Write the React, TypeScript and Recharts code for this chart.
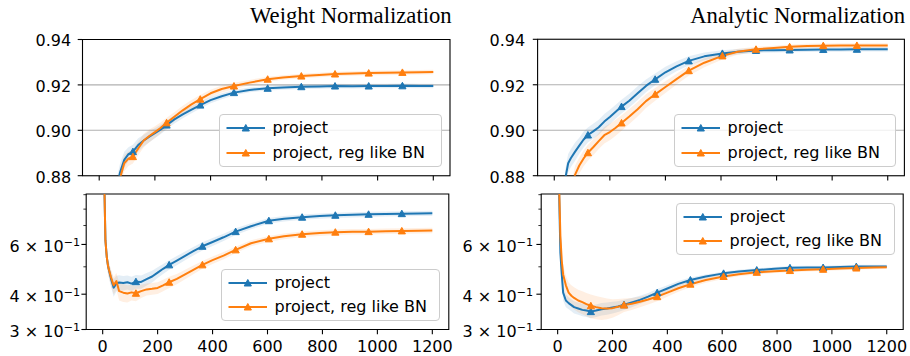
import React from 'react';
import { ComposedChart, Line, Area, XAxis, YAxis, CartesianGrid, ReferenceArea, Legend, Customized } from 'recharts';

const steps = [0, 5, 10, 15, 20, 30, 40, 50, 60, 75, 90, 105, 121, 140, 160, 180, 200, 220, 242, 270, 300, 330, 363, 400, 440, 484, 540, 605, 660, 726, 790, 847, 910, 968, 1030, 1089, 1150, 1200];
const markerSteps = [0, 121, 242, 363, 484, 605, 726, 847, 968, 1089];
const xTicks = [0, 200, 400, 600, 800, 1000, 1200];
const accTicks = [0.88, 0.9, 0.92, 0.94];
const lossTicks = [0.3, 0.4, 0.5, 0.6, 0.7, 0.8, 0.9];
const lossMajor = [0.3, 0.4, 0.6];
const seriesNames = ['project', 'project, reg like BN'];
const titles = ['Weight Normalization', 'Analytic Normalization'];
const colors = ['#1f77b4', '#ff7f0e'];

// Weight Normalization - accuracy
const wnAccProject = [0.70, 0.72, 0.75, 0.77, 0.79, 0.82, 0.845, 0.862, 0.873, 0.8815,
  0.8870, 0.8895, 0.8906, 0.8935, 0.8955, 0.8972, 0.8987, 0.9003, 0.9023, 0.9048,
  0.9070, 0.9090, 0.9111, 0.9133, 0.9150, 0.9166, 0.9178, 0.9185, 0.9189, 0.9192,
  0.9193, 0.9195, 0.9194, 0.9195, 0.9195, 0.9196, 0.9195, 0.9195];
const wnAccProjectStd = [0.004, 0.004, 0.004, 0.004, 0.004, 0.004, 0.004, 0.004, 0.004, 0.004,
  0.0035, 0.003, 0.003, 0.003, 0.0025, 0.0025, 0.0022, 0.002, 0.002, 0.0018,
  0.0017, 0.0016, 0.0015, 0.0014, 0.0013, 0.0012, 0.001, 0.001, 0.001, 0.001,
  0.001, 0.001, 0.001, 0.001, 0.001, 0.001, 0.001, 0.001];
const wnAccReg = [0.70, 0.72, 0.745, 0.765, 0.785, 0.815, 0.84, 0.857, 0.869, 0.879,
  0.8855, 0.8875, 0.8884, 0.8920, 0.8955, 0.8975, 0.8992, 0.9010, 0.9033, 0.9060,
  0.9088, 0.9113, 0.9137, 0.9163, 0.9182, 0.9195, 0.9210, 0.9225, 0.9233, 0.9239,
  0.9244, 0.9248, 0.9250, 0.9252, 0.9253, 0.9255, 0.9256, 0.9257];
const wnAccRegStd = [0.004, 0.004, 0.004, 0.004, 0.004, 0.004, 0.004, 0.004, 0.004, 0.004,
  0.0035, 0.0032, 0.003, 0.003, 0.003, 0.0028, 0.0026, 0.0024, 0.0022, 0.002,
  0.002, 0.0019, 0.0018, 0.0016, 0.0015, 0.0014, 0.0012, 0.0011, 0.001, 0.001,
  0.001, 0.001, 0.001, 0.001, 0.001, 0.001, 0.001, 0.001];

// Analytic Normalization - accuracy
const anAccProject = [0.72, 0.76, 0.79, 0.82, 0.84, 0.865, 0.879, 0.8855, 0.8878, 0.8906,
  0.8932, 0.8958, 0.8979, 0.8995, 0.9013, 0.9038, 0.9058, 0.9080, 0.9104, 0.9130,
  0.9163, 0.9195, 0.9224, 0.9255, 0.9281, 0.9305, 0.9325, 0.9338, 0.9345, 0.9351,
  0.9352, 0.9353, 0.9354, 0.9355, 0.9355, 0.9356, 0.9356, 0.9356];
const anAccProjectStd = [0.004, 0.004, 0.004, 0.004, 0.004, 0.004, 0.004, 0.004, 0.004, 0.004,
  0.0035, 0.0035, 0.0033, 0.0033, 0.0033, 0.0033, 0.0032, 0.0031, 0.003, 0.003,
  0.003, 0.0028, 0.0026, 0.0024, 0.0022, 0.002, 0.0017, 0.0014, 0.0012, 0.0011,
  0.001, 0.001, 0.001, 0.001, 0.001, 0.001, 0.001, 0.001];
const anAccReg = [0.70, 0.72, 0.745, 0.77, 0.79, 0.82, 0.845, 0.862, 0.872, 0.8805,
  0.8845, 0.8875, 0.8901, 0.8925, 0.8952, 0.8978, 0.8992, 0.9010, 0.9032, 0.9060,
  0.9092, 0.9128, 0.9158, 0.9190, 0.9225, 0.9262, 0.9297, 0.9327, 0.9345, 0.9356,
  0.9362, 0.9367, 0.9370, 0.9372, 0.9373, 0.9373, 0.9373, 0.9373];
const anAccRegStd = [0.004, 0.004, 0.004, 0.004, 0.004, 0.004, 0.004, 0.004, 0.004, 0.004,
  0.0035, 0.0035, 0.0035, 0.0035, 0.0035, 0.0036, 0.0036, 0.0035, 0.0034, 0.0033,
  0.0032, 0.003, 0.0028, 0.0026, 0.0024, 0.0022, 0.002, 0.0016, 0.0013, 0.0011,
  0.001, 0.001, 0.001, 0.001, 0.001, 0.001, 0.001, 0.001];

// Weight Normalization - loss
const wnLossProject = [2.0, 1.1, 0.62, 0.54, 0.50, 0.455, 0.422, 0.437, 0.440, 0.438,
  0.441, 0.436, 0.443, 0.442, 0.452, 0.462, 0.477, 0.492, 0.508, 0.526,
  0.547, 0.568, 0.591, 0.612, 0.636, 0.666, 0.696, 0.728, 0.740, 0.749,
  0.756, 0.761, 0.764, 0.767, 0.769, 0.771, 0.772, 0.773];
const wnLossProjectStd = [0.05, 0.05, 0.04, 0.035, 0.03, 0.03, 0.03, 0.028, 0.027, 0.026,
  0.025, 0.025, 0.025, 0.024, 0.023, 0.022, 0.021, 0.02, 0.02, 0.02,
  0.02, 0.02, 0.02, 0.02, 0.019, 0.018, 0.017, 0.016, 0.016, 0.016,
  0.016, 0.016, 0.016, 0.016, 0.016, 0.016, 0.016, 0.016];
const wnLossReg = [2.0, 1.1, 0.62, 0.54, 0.50, 0.46, 0.43, 0.445, 0.41, 0.405,
  0.402, 0.406, 0.403, 0.410, 0.416, 0.418, 0.421, 0.430, 0.441, 0.453,
  0.470, 0.488, 0.508, 0.528, 0.548, 0.574, 0.606, 0.628, 0.641, 0.652,
  0.658, 0.663, 0.665, 0.666, 0.668, 0.670, 0.671, 0.672];
const wnLossRegStd = [0.05, 0.05, 0.04, 0.035, 0.032, 0.03, 0.03, 0.03, 0.03, 0.03,
  0.028, 0.026, 0.025, 0.022, 0.02, 0.02, 0.02, 0.02, 0.02, 0.019,
  0.018, 0.017, 0.016, 0.016, 0.016, 0.015, 0.015, 0.015, 0.015, 0.015,
  0.015, 0.015, 0.015, 0.015, 0.015, 0.015, 0.015, 0.015];

// Analytic Normalization - loss
const anLossProject = [2.0, 0.95, 0.56, 0.47, 0.405, 0.38, 0.372, 0.366, 0.360, 0.356,
  0.352, 0.350, 0.347, 0.350, 0.354, 0.356, 0.359, 0.362, 0.367, 0.374,
  0.382, 0.392, 0.405, 0.419, 0.435, 0.449, 0.462, 0.474, 0.481, 0.487,
  0.492, 0.496, 0.497, 0.497, 0.499, 0.501, 0.501, 0.501];
const anLossProjectStd = [0.05, 0.05, 0.04, 0.03, 0.025, 0.02, 0.018, 0.018, 0.018, 0.018,
  0.018, 0.018, 0.018, 0.018, 0.018, 0.018, 0.017, 0.016, 0.015, 0.014,
  0.013, 0.012, 0.012, 0.011, 0.01, 0.009, 0.008, 0.007, 0.007, 0.007,
  0.007, 0.007, 0.007, 0.007, 0.007, 0.007, 0.007, 0.007];
const anLossReg = [2.0, 1.0, 0.64, 0.525, 0.47, 0.43, 0.405, 0.395, 0.388, 0.380,
  0.375, 0.369, 0.364, 0.360, 0.357, 0.356, 0.357, 0.361, 0.366, 0.370,
  0.376, 0.383, 0.392, 0.405, 0.420, 0.434, 0.449, 0.462, 0.471, 0.478,
  0.482, 0.485, 0.488, 0.490, 0.493, 0.495, 0.497, 0.498];
const anLossRegStd = [0.05, 0.05, 0.045, 0.04, 0.038, 0.035, 0.035, 0.035, 0.035, 0.035,
  0.035, 0.035, 0.035, 0.034, 0.033, 0.03, 0.027, 0.024, 0.02, 0.018,
  0.016, 0.015, 0.014, 0.013, 0.012, 0.011, 0.01, 0.009, 0.008, 0.008,
  0.007, 0.007, 0.007, 0.007, 0.007, 0.007, 0.007, 0.007];

type Row = { step: number; a: number; aBand: [number, number]; b: number; bBand: [number, number] };

const buildRows = (a: number[], aStd: number[], b: number[], bStd: number[]): Row[] =>
  steps.map((s, i) => ({
    step: s,
    a: a[i],
    aBand: [a[i] - aStd[i], a[i] + aStd[i]],
    b: b[i],
    bBand: [b[i] - bStd[i], b[i] + bStd[i]],
  }));

const FONT = '"DejaVu Sans", sans-serif';
const triPath = (cx: number, cy: number) =>
  `M${cx},${cy - 3.5} L${cx + 3.6},${cy + 3} L${cx - 3.6},${cy + 3} Z`;

const makeDot = (color: string) => (props: any) => {
  const { cx, cy, payload, index } = props;
  if (cx == null || cy == null || !payload || !markerSteps.includes(payload.step)) {
    return <g key={`d-${index}`} />;
  }
  return <path key={`d-${index}`} d={triPath(cx, cy)} fill={color} stroke={color} strokeWidth={1} />;
};

const LegendBox = ({ w, h, rows }: { w: number; h: number; rows: number[] }) => (
  <div
    style={{
      position: 'relative',
      boxSizing: 'border-box',
      width: w,
      height: h,
      border: '1px solid #cccccc',
      borderRadius: 4,
      background: 'rgba(255,255,255,0.8)',
      fontFamily: FONT,
      fontSize: 16,
      color: '#000',
    }}
  >
    {seriesNames.map((name, i) => (
      <div key={name} style={{ position: 'absolute', left: 0, top: rows[i] - 11, height: 20, width: '100%' }}>
        <svg width={46} height={20} style={{ position: 'absolute', left: 5.5, top: 0 }}>
          <line x1={0.5} x2={39} y1={10} y2={10} stroke={colors[i]} strokeWidth={2} />
          <path d={triPath(19.8, 10)} fill={colors[i]} stroke={colors[i]} strokeWidth={1} />
        </svg>
        <span style={{ position: 'absolute', left: 52.5, top: 0, lineHeight: '20px', whiteSpace: 'nowrap' }}>{name}</span>
      </div>
    ))}
  </div>
);

type PanelProps = {
  left: number;
  top: number;
  width: number;
  height: number;
  margin: { top: number; right: number; bottom: number; left: number };
  yWidth: number;
  xHeight: number;
  data: Row[];
  kind: 'acc' | 'loss';
  showXLabels: boolean;
  labelGap: number;
  legend: { left: number; top: number; width: number; height: number; rows: number[] };
  title?: { text: string; x: number; y: number };
};

const Panel = (p: PanelProps) => {
  const isLog = p.kind === 'loss';
  const yDomain: [number, number] = isLog ? [0.3, 0.905] : [0.88, 0.94];

  const xTick = (props: any) => {
    const { x, y, payload } = props;
    return (
      <g>
        <line x1={x} x2={x} y1={y} y2={y + 4.8} stroke="#000" strokeWidth={1.1} />
        {p.showXLabels && (
          <text x={x} y={y + 22.4} textAnchor="middle" fontFamily={FONT} fontSize={16} fill="#000">
            {payload.value}
          </text>
        )}
      </g>
    );
  };

  const yTick = (props: any) => {
    const { x, y, payload } = props;
    const v: number = payload.value;
    if (!isLog) {
      return (
        <g>
          <line x1={x - 4.8} x2={x} y1={y} y2={y} stroke="#000" strokeWidth={1.1} />
          <text x={x - p.labelGap} y={y + 6.8} textAnchor="end" fontFamily={FONT} fontSize={16} fill="#000">
            {v.toFixed(2)}
          </text>
        </g>
      );
    }
    const major = lossMajor.some((m) => Math.abs(m - v) < 1e-9);
    const mant = Math.round(v * 10);
    return (
      <g>
        <line x1={x - (major ? 4.8 : 2.8)} x2={x} y1={y} y2={y} stroke="#000" strokeWidth={major ? 1.1 : 0.8} />
        {major && (
          <text x={x - p.labelGap} y={y + 7.4} textAnchor="end" fontFamily={FONT} fontSize={16} fill="#000">
            <tspan>{`${mant} × 10`}</tspan>
            <tspan dy={-5.5} fontSize={11.2}>−1</tspan>
          </text>
        )}
      </g>
    );
  };

  return (
    <div style={{ position: 'absolute', left: p.left, top: p.top, width: p.width, height: p.height }}>
      <ComposedChart width={p.width} height={p.height} data={p.data} margin={p.margin}>
        {!isLog && <CartesianGrid vertical={false} stroke="#b0b0b0" strokeWidth={1.1} />}
        <XAxis
          dataKey="step"
          type="number"
          domain={[-60, 1260]}
          ticks={xTicks}
          interval={0}
          allowDataOverflow
          axisLine={false}
          tickLine={false}
          tickSize={0}
          tickMargin={0}
          height={p.xHeight}
          tick={xTick}
        />
        <YAxis
          type="number"
          scale={isLog ? 'log' : 'linear'}
          domain={yDomain}
          ticks={isLog ? lossTicks : accTicks}
          interval={0}
          allowDataOverflow
          axisLine={false}
          tickLine={false}
          tickSize={0}
          tickMargin={0}
          width={p.yWidth}
          tick={yTick}
        />
        <Area dataKey="aBand" type="linear" stroke="none" fill={colors[0]} fillOpacity={0.12} isAnimationActive={false} activeDot={false} />
        <Area dataKey="bBand" type="linear" stroke="none" fill={colors[1]} fillOpacity={0.12} isAnimationActive={false} activeDot={false} />
        <Line dataKey="a" type="linear" stroke={colors[0]} strokeWidth={2} strokeLinejoin="round" dot={makeDot(colors[0])} activeDot={false} isAnimationActive={false} />
        <Line dataKey="b" type="linear" stroke={colors[1]} strokeWidth={2} strokeLinejoin="round" dot={makeDot(colors[1])} activeDot={false} isAnimationActive={false} />
        <ReferenceArea x1={-60} x2={1260} y1={yDomain[0]} y2={yDomain[1]} fill="none" fillOpacity={0} stroke="#000" strokeWidth={1.1} ifOverflow="visible" />
        {p.title && (
          <Customized
            component={() => (
              <text x={p.title!.x} y={p.title!.y} textAnchor="end" fontFamily='"Liberation Serif", serif' fontSize={22.7} fill="#000">
                {p.title!.text}
              </text>
            )}
          />
        )}
        <Legend
          layout="horizontal"
          verticalAlign="middle"
          align="center"
          wrapperStyle={{ position: 'absolute', left: p.legend.left, top: p.legend.top, width: p.legend.width, height: p.legend.height }}
          content={() => <LegendBox w={p.legend.width} h={p.legend.height} rows={p.legend.rows} />}
        />
      </ComposedChart>
    </div>
  );
};

const wnAccRows = buildRows(wnAccProject, wnAccProjectStd, wnAccReg, wnAccRegStd);
const anAccRows = buildRows(anAccProject, anAccProjectStd, anAccReg, anAccRegStd);
const wnLossRows = buildRows(wnLossProject, wnLossProjectStd, wnLossReg, wnLossRegStd);
const anLossRows = buildRows(anLossProject, anLossProjectStd, anLossReg, anLossRegStd);

export default function App() {
  return (
    <div style={{ position: 'absolute', left: 0, top: 0, width: 910, height: 356, background: '#fff', overflow: 'hidden' }}>
      <Panel
        left={0} top={0} width={460} height={188}
        margin={{ top: 39.5, right: 10, bottom: 0, left: 0 }}
        yWidth={82.5} xHeight={12.3}
        data={wnAccRows} kind="acc" showXLabels={false} labelGap={11.3}
        legend={{ left: 219, top: 114.3, width: 222.7, height: 52.4, rows: [14, 38.4] }}
        title={{ text: titles[0], x: 451.7, y: 22.7 }}
      />
      <Panel
        left={460} top={0} width={450} height={188}
        margin={{ top: 39.3, right: 5.6, bottom: 0, left: 0 }}
        yWidth={77.6} xHeight={12.3}
        data={anAccRows} kind="acc" showXLabels={false} labelGap={12.5}
        legend={{ left: 214, top: 114.3, width: 221.7, height: 52.4, rows: [14, 38.4] }}
        title={{ text: titles[1], x: 445, y: 22.7 }}
      />
      <Panel
        left={0} top={185} width={460} height={171}
        margin={{ top: 9, right: 11.2, bottom: 0, left: 0 }}
        yWidth={86.2} xHeight={26.5}
        data={wnLossRows} kind="loss" showXLabels={true} labelGap={6}
        legend={{ left: 221, top: 84, width: 219, height: 51.7, rows: [14.3, 37.7] }}
      />
      <Panel
        left={460} top={185} width={450} height={171}
        margin={{ top: 9, right: 6.8, bottom: 0, left: 0 }}
        yWidth={81.2} xHeight={26.5}
        data={anLossRows} kind="loss" showXLabels={true} labelGap={8}
        legend={{ left: 216, top: 17.7, width: 219, height: 52.3, rows: [14, 38] }}
      />
    </div>
  );
}
